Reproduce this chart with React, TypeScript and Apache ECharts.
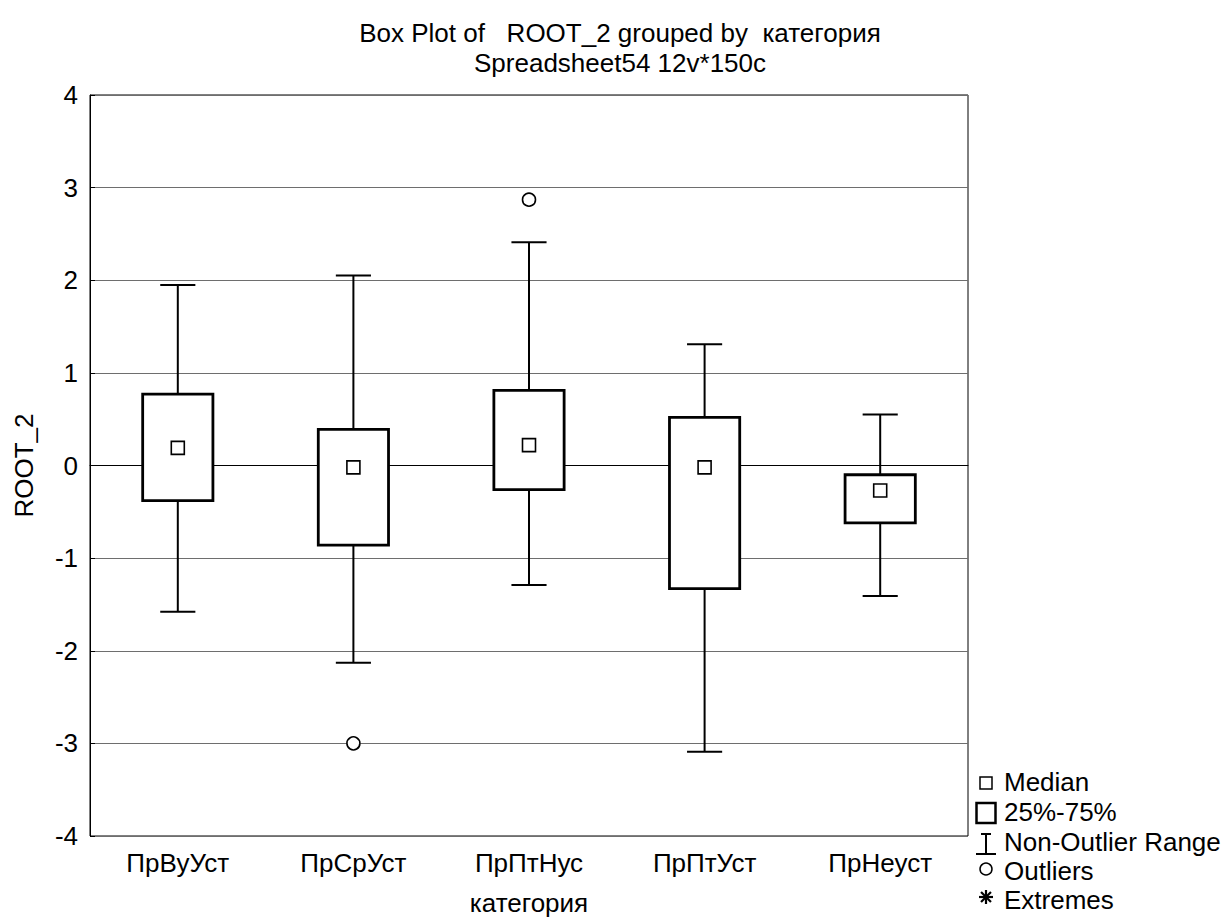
import React, { useEffect, useRef } from "react";
import * as echarts from "echarts";

// Groups on the category axis
const categories = ["ПрВуУст", "ПрСрУст", "ПрПтНус", "ПрПтУст", "ПрНеуст"];
// Non-outlier range and quartiles per group
const whiskerLow = [-1.58, -2.13, -1.29, -3.09, -1.41];
const quartile1 = [-0.38, -0.86, -0.26, -1.33, -0.62];
const medians = [0.19, -0.02, 0.22, -0.02, -0.27];
const quartile3 = [0.77, 0.39, 0.81, 0.52, -0.1];
const whiskerHigh = [1.95, 2.05, 2.41, 1.31, 0.55];
// Outliers: [group index, value]
const outliers: [number, number][] = [
  [1, -3.0],
  [2, 2.87],
];
const yTicks = { min: -4, max: 4, interval: 1 };

const legendItems = ["Median", "25%-75%", "Non-Outlier Range", "Outliers", "Extremes"];

const FONT = "'Liberation Sans', Arial, sans-serif";
const FS = 26;

export default function App() {
  const ref = useRef<HTMLDivElement>(null);

  useEffect(() => {
    if (!ref.current) return;
    const chart = echarts.init(ref.current, undefined, { renderer: "svg" });

    const boxData = categories.map((_, i) => [
      i,
      whiskerLow[i],
      quartile1[i],
      medians[i],
      quartile3[i],
      whiskerHigh[i],
    ]);

    const lineStyle = { stroke: "#000", lineWidth: 2 };

    // Legend (symbol key) on the lower right
    const legendX = 986;
    const textY = [782, 812, 842, 871, 900];
    const symY = [783, 813, 844, 869, 897];
    const legendGraphics: any[] = [];
    legendItems.forEach((label, k) => {
      legendGraphics.push({
        type: "text",
        x: 1004,
        y: textY[k],
        style: {
          text: label,
          font: `${FS}px ${FONT}`,
          fill: "#000",
          textAlign: "left",
          textVerticalAlign: "middle",
        },
      });
    });
    // Median marker
    legendGraphics.push({
      type: "rect",
      shape: { x: legendX - 6, y: symY[0] - 6, width: 12, height: 12 },
      style: { fill: "#fff", stroke: "#000", lineWidth: 1.5 },
    });
    // Box marker
    legendGraphics.push({
      type: "rect",
      shape: { x: legendX - 9.5, y: symY[1] - 10, width: 19, height: 20 },
      style: { fill: "#fff", stroke: "#000", lineWidth: 2.5 },
    });
    // Whisker marker
    legendGraphics.push(
      { type: "line", shape: { x1: legendX, y1: symY[2] - 10, x2: legendX, y2: symY[2] + 10 }, style: lineStyle },
      { type: "line", shape: { x1: legendX - 5, y1: symY[2] - 10, x2: legendX + 5, y2: symY[2] - 10 }, style: lineStyle },
      { type: "line", shape: { x1: legendX - 10, y1: symY[2] + 10, x2: legendX + 10, y2: symY[2] + 10 }, style: lineStyle }
    );
    // Outlier marker
    legendGraphics.push({
      type: "circle",
      shape: { cx: legendX, cy: symY[3], r: 6 },
      style: { fill: "#fff", stroke: "#000", lineWidth: 1.5 },
    });
    // Extreme marker (heavy asterisk)
    const r = 7;
    [90, 45, -45, 0].forEach((deg) => {
      const a = (deg * Math.PI) / 180;
      legendGraphics.push({
        type: "line",
        shape: {
          x1: legendX - r * Math.cos(a),
          y1: symY[4] - r * Math.sin(a),
          x2: legendX + r * Math.cos(a),
          y2: symY[4] + r * Math.sin(a),
        },
        style: { stroke: "#000", lineWidth: 2.2 },
      });
    });

    chart.setOption({
      animation: false,
      backgroundColor: "#fff",
      textStyle: { fontFamily: FONT },
      graphic: [
        {
          type: "text",
          x: 620,
          y: 33,
          style: {
            text: "Box Plot of   ROOT_2 grouped by  категория",
            font: `${FS}px ${FONT}`,
            fill: "#000",
            textAlign: "center",
            textVerticalAlign: "middle",
          },
        },
        {
          type: "text",
          x: 620,
          y: 63,
          style: {
            text: "Spreadsheet54 12v*150c",
            font: `${FS}px ${FONT}`,
            fill: "#000",
            textAlign: "center",
            textVerticalAlign: "middle",
          },
        },
        ...legendGraphics,
      ],
      grid: {
        left: 90,
        right: 259,
        top: 95,
        bottom: 83,
        show: true,
        borderColor: "#000",
        borderWidth: 1,
        backgroundColor: "#fff",
      },
      xAxis: {
        type: "category",
        data: categories,
        boundaryGap: true,
        name: "категория",
        nameLocation: "middle",
        nameGap: 54,
        nameTextStyle: { fontSize: FS, color: "#000", fontFamily: FONT },
        axisLine: { lineStyle: { color: "#000", width: 1 } },
        axisTick: { inside: true, alignWithLabel: true, length: 5, lineStyle: { color: "#000" } },
        axisLabel: { fontSize: FS, color: "#000", margin: 14, fontFamily: FONT },
        splitLine: { show: false },
      },
      yAxis: {
        type: "value",
        min: yTicks.min,
        max: yTicks.max,
        interval: yTicks.interval,
        name: "ROOT_2",
        nameLocation: "middle",
        nameGap: 53,
        nameRotate: 90,
        nameTextStyle: { fontSize: FS, color: "#000", fontFamily: FONT },
        axisLine: { show: true, lineStyle: { color: "#000", width: 1 } },
        axisTick: { show: true, inside: true, length: 5, lineStyle: { color: "#000" } },
        axisLabel: { fontSize: FS, color: "#000", margin: 12, fontFamily: FONT },
        splitLine: { show: true, lineStyle: { color: "#6e6e6e", width: 1 } },
      },
      series: [
        {
          type: "custom",
          name: "box",
          data: boxData,
          encode: { x: 0, y: [1, 2, 4, 5] },
          z: 2,
          renderItem: (params: any, api: any) => {
            const i = api.value(0);
            const lo = api.coord([i, api.value(1)]);
            const q1 = api.coord([i, api.value(2)]);
            const q3 = api.coord([i, api.value(4)]);
            const hi = api.coord([i, api.value(5)]);
            const band = api.size([1, 0])[0];
            const bw = band * 0.4;
            const cw = band * 0.2;
            const cx = q1[0];
            return {
              type: "group",
              children: [
                { type: "line", shape: { x1: cx, y1: hi[1], x2: cx, y2: q3[1] }, style: lineStyle },
                { type: "line", shape: { x1: cx, y1: q1[1], x2: cx, y2: lo[1] }, style: lineStyle },
                { type: "line", shape: { x1: cx - cw / 2, y1: hi[1], x2: cx + cw / 2, y2: hi[1] }, style: lineStyle },
                { type: "line", shape: { x1: cx - cw / 2, y1: lo[1], x2: cx + cw / 2, y2: lo[1] }, style: lineStyle },
                {
                  type: "rect",
                  shape: { x: cx - bw / 2, y: q3[1], width: bw, height: q1[1] - q3[1] },
                  style: { fill: "#fff", stroke: "#000", lineWidth: 2.8 },
                },
              ],
            };
          },
        },
        {
          type: "scatter",
          name: "Median",
          data: categories.map((_, i) => [i, medians[i]]),
          symbol: "rect",
          symbolSize: 13,
          z: 3,
          itemStyle: { color: "#fff", borderColor: "#000", borderWidth: 1.6, opacity: 1 },
        },
        {
          type: "scatter",
          name: "Outliers",
          data: outliers,
          symbol: "circle",
          symbolSize: 13,
          z: 3,
          itemStyle: { color: "#fff", borderColor: "#000", borderWidth: 1.6, opacity: 1 },
        },
      ],
    });

    return () => chart.dispose();
  }, []);

  return (
    <div
      ref={ref}
      style={{ position: "fixed", left: 0, top: 0, width: 1227, height: 921, background: "#fff" }}
    />
  );
}
